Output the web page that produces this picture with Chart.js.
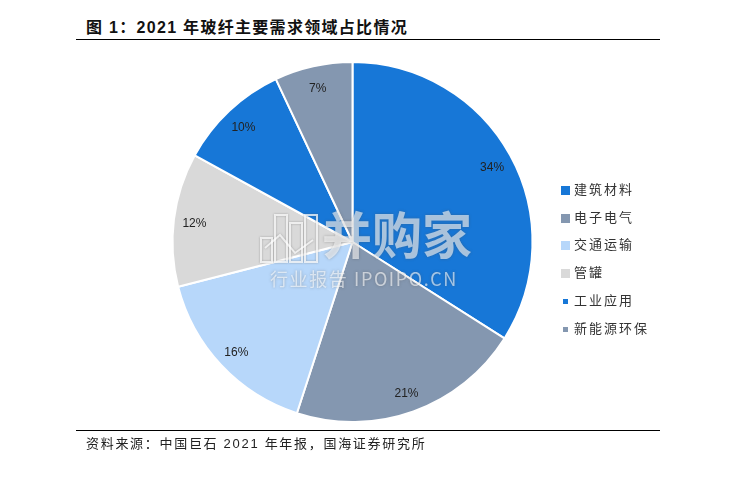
<!DOCTYPE html>
<html>
<head>
<meta charset="utf-8">
<script src="https://cdn.jsdelivr.net/npm/chart.js@4"></script>
<style>
  html, body { margin: 0; padding: 0; background: #fff; }
  #wrap { position: relative; width: 732px; height: 495px; overflow: hidden; font-family: "Liberation Sans", "Noto Sans CJK SC", sans-serif; color: #111; }
  #pie { position: absolute; left: 0; top: 0; }
  .abs { position: absolute; white-space: nowrap; }
  #title { left: 86px; top: 18px; font-size: 16px; font-weight: bold; line-height: 20px; letter-spacing: 1.3px; }
  #source { left: 86px; top: 435px; font-size: 13px; line-height: 18px; letter-spacing: 1.7px; color: #222; }
  .rule { position: absolute; left: 76px; width: 584px; height: 1px; background: #000; }
  .leg { position: absolute; left: 561px; font-size: 13px; line-height: 16px; letter-spacing: 2px; color: #333; white-space: nowrap; }
  .leg i { position: absolute; top: 4px; }
  .leg span { margin-left: 13px; }
  #mark { position: absolute; left: 256px; top: 210px; width: 230px; height: 85px; color: rgba(255,255,255,0.6); text-shadow: 0 0 3px rgba(80,80,80,0.4); }
  #mark b { position: absolute; left: 66px; top: -8px; font-size: 50px; line-height: 60px; font-weight: 700; font-family: "Noto Sans CJK SC"; }
  #mark em { position: absolute; left: 14px; top: 57px; font-style: normal; font-size: 18px; line-height: 22px; letter-spacing: 1.6px; font-family: "Noto Sans CJK SC", "Open Sans"; }
  #mark svg { position: absolute; left: 0; top: 0; filter: drop-shadow(0 0 1px rgba(80,80,80,0.5)); }
</style>
</head>
<body>
<div id="wrap">
  <div class="abs" id="title">图 1：2021 年玻纤主要需求领域占比情况</div>
  <div class="rule" style="top:39px"></div>
  <canvas id="pie" width="732" height="495"></canvas>
  <div id="legend"></div>
  <div id="mark">
    <svg width="66" height="56" fill="none" stroke="rgba(255,255,255,0.75)" stroke-width="2">
      <rect x="5" y="28" width="11" height="24"/>
      <rect x="19" y="5" width="12" height="47"/>
      <rect x="34" y="13" width="12" height="39"/>
      <rect x="49" y="5" width="12" height="47"/>
      <polyline points="9,38 24,25 39,43 57,30"/>
    </svg>
    <b>并购家</b>
    <em>行业报告 IPOIPO.CN</em>
  </div>
  <div class="rule" style="top:430px"></div>
  <div class="abs" id="source">资料来源：中国巨石 2021 年年报，国海证券研究所</div>
</div>
<script>
const categories = ["建筑材料", "电子电气", "交通运输", "管罐", "工业应用", "新能源环保"];
const shares = [34, 21, 16, 12, 10, 7];
const colors = ["#1777d7", "#8497b0", "#b7d7fa", "#d9d9d9", "#1777d7", "#8497b0"];
const swatchSizes = [9, 9, 9, 9, 5, 5];

// percent labels sit close to the rim
const sliceLabels = {
  id: "sliceLabels",
  afterDatasetsDraw(chart) {
    const ctx = chart.ctx;
    const arcs = chart.getDatasetMeta(0).data;
    ctx.save();
    ctx.font = '12px "Liberation Sans", sans-serif';
    ctx.fillStyle = "#222";
    ctx.textAlign = "center";
    ctx.textBaseline = "middle";
    arcs.forEach((arc, i) => {
      const mid = (arc.startAngle + arc.endAngle) / 2;
      const r = arc.outerRadius * 0.885;
      ctx.fillText(shares[i] + "%", arc.x + Math.cos(mid) * r, arc.y + Math.sin(mid) * r + 2);
    });
    ctx.restore();
  },
};

new Chart(document.getElementById("pie").getContext("2d"), {
  type: "pie",
  data: {
    labels: categories,
    datasets: [
      {
        data: shares,
        backgroundColor: colors,
        borderColor: "#fff",
        borderWidth: 2,
      },
    ],
  },
  options: {
    responsive: false,
    animation: false,
    layout: { padding: { left: 171.5, right: 198.5, top: 61, bottom: 72 } },
    plugins: {
      legend: { display: false },
      tooltip: { enabled: false },
    },
  },
  plugins: [sliceLabels],
});

// legend on the right, last two swatches are smaller in the original
const legend = document.getElementById("legend");
categories.forEach((name, i) => {
  const s = swatchSizes[i];
  const row = document.createElement("div");
  row.className = "leg";
  row.style.top = 182 + i * 27.7 + "px";
  row.innerHTML = `<i style="left:${(9 - s) / 2}px;top:${4 + (9 - s) / 2}px;width:${s}px;height:${s}px;background:${colors[i]}"></i><span>${name}</span>`;
  legend.appendChild(row);
});
</script>
</body>
</html>
